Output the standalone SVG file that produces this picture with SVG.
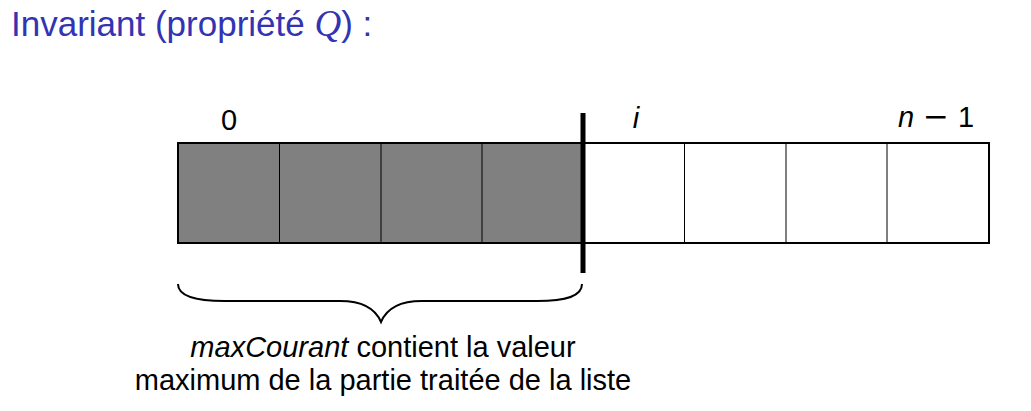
<svg xmlns="http://www.w3.org/2000/svg" width="1031" height="411" viewBox="0 0 1031 411">
<style>
.t{font-family:"Liberation Sans",Arial,sans-serif;font-size:29px;fill:#000}
.title{font-family:"Liberation Sans",Arial,sans-serif;font-size:35px;fill:#3333b3}
.it{font-style:italic}
.cell{stroke:#000;stroke-width:1}
.done{fill:#808080}
.todo{fill:#fff}
</style>
<rect width="1031" height="411" fill="#fff"/>
<text id="title" class="title" x="11" y="36">Invariant (propriété <tspan font-family="'Liberation Serif','Times New Roman',serif" font-style="italic" font-size="37">Q</tspan>) :</text>
<g id="array">
<rect class="done" x="178" y="143" width="405" height="100"/>
<rect class="todo" x="583" y="143" width="406" height="100"/>
<g class="cell">
<line x1="279.5" y1="143" x2="279.5" y2="243"/>
<line x1="381" y1="143" x2="381" y2="243"/>
<line x1="482" y1="143" x2="482" y2="243"/>
<line x1="684.5" y1="143" x2="684.5" y2="243"/>
<line x1="786" y1="143" x2="786" y2="243"/>
<line x1="887" y1="143" x2="887" y2="243"/>
</g>
<rect x="178" y="143" width="811" height="100" fill="none" stroke="#000" stroke-width="2"/>
<line x1="583" y1="113" x2="583" y2="273" stroke="#000" stroke-width="5"/>
</g>
<g id="labels">
<text class="t" x="229" y="130" text-anchor="middle">0</text>
<text class="t it" x="636" y="128" text-anchor="middle">i</text>
<text class="t" y="127"><tspan class="it" x="898">n</tspan><tspan font-family="'DejaVu Sans',sans-serif" font-size="31" x="923">−</tspan><tspan x="958">1</tspan></text>
</g>
<g id="connectors">
<path d="M178,284 C178,296 195,301 225,301 L340,301 C365,301 376,310 381,322 C386,310 397,301 422,301 L537,301 C567,301 582,296 582,284" fill="none" stroke="#000" stroke-width="2"/>
</g>
<g id="caption">
<text class="t" x="383" y="357" text-anchor="middle"><tspan class="it">maxCourant</tspan> contient la valeur</text>
<text class="t" x="383" y="390" text-anchor="middle">maximum de la partie traitée de la liste</text>
</g>
</svg>
